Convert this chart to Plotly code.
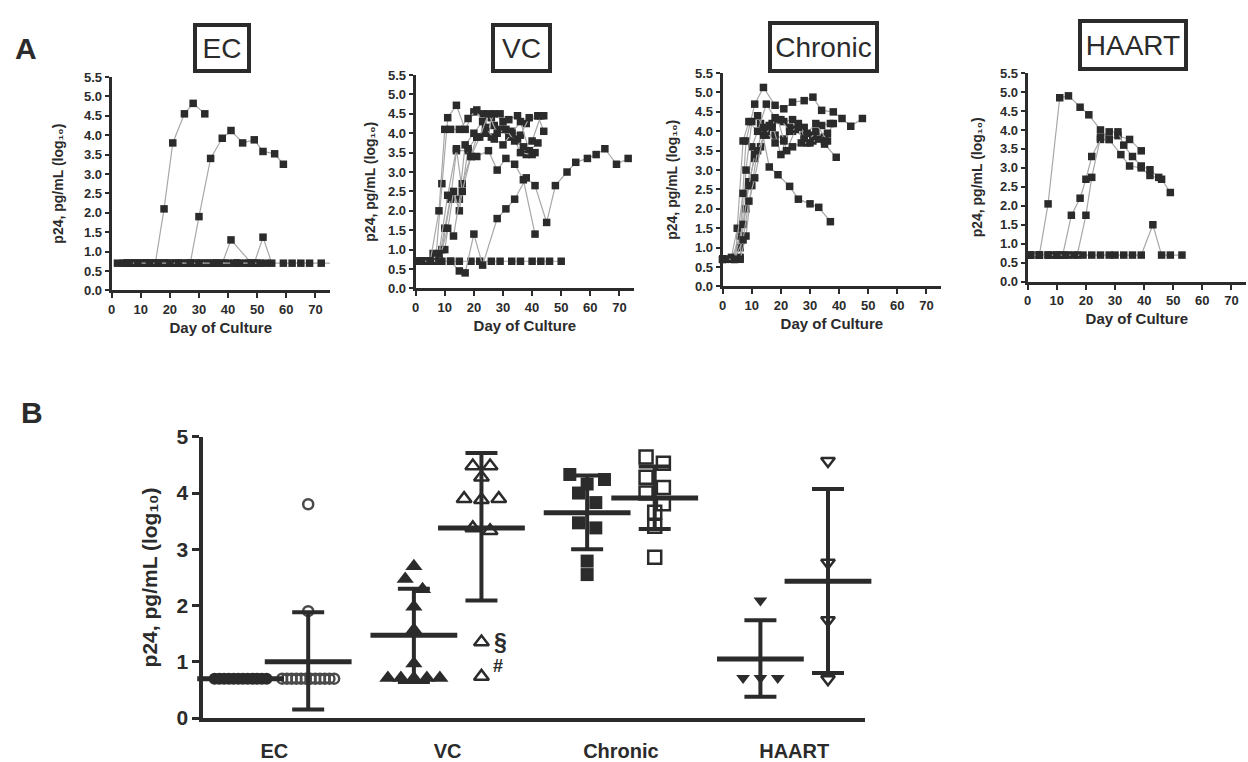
import plotly.graph_objects as go

W, H = 1248, 762
DARK = "#2b2b2b"
LINE = "#a8a8a8"
FONT = "Liberation Sans, Arial, DejaVu Sans, sans-serif"
YTITLE = "p24, pg/mL (log₁₀)"

# ---------------- Panel A data (day of culture, p24 log10) ----------------
PANELS = ["EC", "VC", "Chronic", "HAART"]

EC_days = [
    [2, 5, 8, 12, 15, 18, 21, 25, 28, 32],
    [5, 9, 12, 16, 19, 23, 27, 30, 34, 38, 41, 45, 49, 52, 56, 59],
    [6, 10, 13, 17, 20, 24, 27, 31, 34, 38, 41, 48],
    [7, 11, 14, 18, 22, 25, 29, 32, 36, 39, 43, 46, 49, 52, 55, 59, 62, 65, 68, 72, 76],
    [4, 8, 11, 15, 18, 22, 26, 29, 33, 36, 40, 43, 47, 50, 53],
    [6, 9, 13, 16, 20, 23, 27, 30, 35, 37, 42, 44, 48, 51],
]
EC_vals = [
    [0.7, 0.7, 0.7, 0.7, 0.7, 2.1, 3.8, 4.55, 4.82, 4.55],
    [0.7, 0.7, 0.7, 0.7, 0.7, 0.7, 0.7, 1.9, 3.4, 3.92, 4.12, 3.8, 3.88, 3.58, 3.52, 3.25],
    [0.7, 0.7, 0.7, 0.7, 0.7, 0.7, 0.7, 0.7, 0.7, 0.7, 1.3, 0.7],
    [0.7, 0.7, 0.7, 0.7, 0.7, 0.7, 0.7, 0.7, 0.7, 0.7, 0.7, 0.7, 0.7, 1.37, 0.7, 0.7, 0.7, 0.7, 0.7, 0.7, 0.7],
    [0.7, 0.7, 0.7, 0.7, 0.7, 0.7, 0.7, 0.7, 0.7, 0.7, 0.7, 0.7, 0.7, 0.7, 0.7],
    [0.7, 0.7, 0.7, 0.7, 0.7, 0.7, 0.7, 0.7, 0.7, 0.7, 0.7, 0.7, 0.7, 0.7],
]

VC_days = [
    [1, 5, 8, 12, 15, 19, 22, 26, 29, 33, 36, 40, 43, 46, 50],
    [1, 4, 6, 9, 12, 15, 17, 20, 23, 28, 31, 34, 38, 41, 45, 48, 52, 55, 59, 62, 65, 69, 73],
    [1, 4, 7, 9, 12, 14, 18, 21, 25, 28, 31, 34, 37, 41],
    [2, 5, 7, 9, 11, 14, 17, 20, 23, 26, 29, 32, 35, 38, 42, 44],
    [2, 5, 8, 10, 12, 15, 18, 21, 24, 27, 30, 33, 36, 39, 42, 44],
    [2, 5, 8, 10, 12, 15, 17, 20, 23, 26, 29, 32, 35, 38, 41],
    [2, 5, 8, 10, 13, 15, 18, 21, 24, 27, 30, 33, 36, 39, 42],
    [2, 5, 8, 11, 13, 16, 19, 21, 24, 27, 30, 33, 36, 40],
    [2, 5, 8, 11, 14, 16, 19, 22, 25, 28, 31, 34, 37, 40, 43],
]
VC_vals = [
    [0.7, 0.7, 0.7, 0.7, 0.7, 0.7, 0.7, 0.7, 0.7, 0.7, 0.7, 0.7, 0.7, 0.7, 0.7],
    [0.7, 0.7, 0.9, 0.7, 0.7, 0.45, 0.4, 1.4, 0.6, 1.8, 2.05, 2.3, 2.85, 2.65, 1.7, 2.65, 3.0, 3.25, 3.35, 3.45, 3.6, 3.2, 3.35],
    [0.7, 0.7, 0.7, 1.0, 2.3, 3.55, 3.55, 3.4, 3.55, 3.05, 3.35, 3.2, 2.8, 1.4],
    [0.7, 0.7, 0.85, 2.7, 4.4, 4.72, 4.1, 4.55, 4.5, 4.4, 4.5, 4.35, 4.45, 4.25, 4.45, 4.45],
    [0.7, 0.7, 2.0, 4.1, 4.1, 4.1, 4.38, 4.6, 4.05, 4.2, 4.1, 4.05, 3.95, 4.4, 4.45, 4.05],
    [0.7, 0.7, 0.75, 1.55, 2.35, 2.3, 3.7, 4.0, 4.3, 3.9, 4.1, 3.9, 3.85, 3.45, 3.5],
    [0.7, 0.7, 0.7, 1.0, 2.5, 2.0, 3.6, 3.9, 4.0, 4.5, 4.3, 4.0, 4.3, 3.55, 3.75],
    [0.7, 0.7, 0.7, 1.55, 1.35, 2.7, 3.4, 3.9, 4.15, 3.85, 3.7, 4.0, 3.5, 3.45],
    [0.7, 0.7, 0.9, 2.4, 3.6, 2.5, 3.4, 3.9, 4.5, 4.0, 4.1, 3.8, 3.65, 3.8, 4.45],
]

CH_days = [
    [0, 3, 6, 8, 11, 14, 18, 21, 24, 28, 31, 34, 38, 41, 44, 48],
    [0, 4, 6, 8, 10, 13, 16, 19, 23, 26, 30, 33, 37],
    [0, 4, 6, 8, 10, 12, 15, 18, 21, 24, 28, 31, 35, 39],
    [0, 3, 5, 7, 9, 12, 15, 18, 21, 24, 28, 31, 34, 37],
    [0, 4, 7, 9, 11, 14, 17, 20, 23, 26, 29, 32, 35],
    [0, 4, 7, 9, 11, 13, 16, 19, 22, 25, 28, 31, 35, 38],
    [1, 4, 6, 8, 10, 12, 15, 18, 21, 24, 27, 30, 33, 36],
    [1, 4, 7, 9, 11, 14, 17, 20, 23, 26, 29, 32, 36],
]
CH_vals = [
    [0.7, 0.7, 1.3, 3.75, 4.7, 5.13, 4.67, 4.58, 4.75, 4.79, 4.88, 4.54, 4.5, 4.33, 4.13, 4.33],
    [0.7, 0.7, 1.0, 2.0, 3.6, 4.2, 3.08, 2.88, 2.58, 2.25, 2.13, 2.04, 1.67],
    [0.7, 0.7, 0.75, 3.0, 4.25, 4.4, 3.9, 3.9, 3.8, 4.0, 3.9, 3.8, 3.67, 3.33],
    [0.7, 0.75, 1.5, 3.75, 4.25, 4.0, 4.7, 4.35, 4.25, 4.3, 4.1, 3.9, 4.15, 4.2],
    [0.7, 0.7, 2.4, 2.7, 3.3, 4.1, 4.2, 3.4, 4.1, 4.2, 3.7, 4.0, 3.85],
    [0.7, 0.7, 1.6, 2.6, 3.4, 3.6, 4.15, 4.3, 3.5, 4.05, 3.8, 3.75, 3.75, 4.2],
    [0.7, 0.7, 0.7, 1.3, 2.6, 3.5, 4.0, 3.7, 3.75, 3.6, 3.7, 3.7, 3.8, 3.95],
    [0.7, 0.7, 1.2, 2.2, 2.8, 3.9, 4.1, 4.3, 4.0, 4.1, 3.95, 4.2, 3.75],
]

HA_days = [
    [1, 4, 7, 11, 14, 18, 21, 25, 28, 32, 35, 39, 42, 46, 49],
    [1, 4, 7, 10, 12, 15, 18, 20, 22, 25, 28, 31, 35, 39],
    [4, 8, 11, 14, 17, 20, 22, 25, 28, 31, 33, 36, 39, 42, 45],
    [1, 4, 7, 10, 13, 16, 19, 22, 25, 28, 30, 33, 36, 39, 43, 46, 49, 53],
]
HA_vals = [
    [0.7, 0.7, 2.05, 4.85, 4.9, 4.6, 4.4, 4.0, 3.75, 3.35, 3.05, 3.0, 2.8, 2.7, 2.35],
    [0.7, 0.7, 0.7, 0.7, 0.7, 1.75, 2.2, 2.7, 3.3, 3.75, 3.75, 3.85, 3.75, 3.45],
    [0.7, 0.7, 0.7, 0.7, 0.7, 1.75, 2.75, 3.8, 3.95, 3.95, 3.6, 3.3, 3.05, 2.95, 2.75],
    [0.7, 0.7, 0.7, 0.7, 0.7, 0.7, 0.7, 0.7, 0.7, 0.7, 0.7, 0.7, 0.7, 0.7, 1.5, 0.7, 0.7, 0.7],
]

A_DAYS = [EC_days, VC_days, CH_days, HA_days]
A_VALS = [EC_vals, VC_vals, CH_vals, HA_vals]
A_XTICKS = [0, 10, 20, 30, 40, 50, 60, 70]
A_YTICKS = [0.0, 0.5, 1.0, 1.5, 2.0, 2.5, 3.0, 3.5, 4.0, 4.5, 5.0, 5.5]

# ---------------- Panel B data ----------------
B_GROUPS = ["EC", "VC", "Chronic", "HAART"]
EC_filled = [0.7, 0.7, 0.7, 0.7, 0.7, 0.7, 0.7, 0.7, 0.7, 0.7, 0.7, 0.7]
EC_open = [0.7, 0.7, 0.7, 0.7, 0.7, 0.7, 0.7, 0.7, 0.7, 0.7, 0.7, 0.7, 1.9, 3.8]
VC_filled = [2.7, 2.47, 2.29, 1.98, 1.57, 0.97, 0.71, 0.71, 0.71, 0.71, 0.71]
VC_open = [4.48, 4.48, 4.28, 3.9, 3.9, 3.88, 3.38, 3.33, 1.35, 0.74]
CH_filled = [4.33, 4.24, 4.16, 4.0, 3.83, 3.47, 3.38, 2.79, 2.55]
CH_open = [4.64, 4.53, 4.28, 4.1, 4.0, 3.81, 3.66, 3.41, 2.86]
HA_filled = [2.09, 0.71, 0.71, 0.71]
HA_open = [4.57, 2.76, 1.74, 0.69]

# mean, lower SD, upper SD
B_MEAN = [0.7, 1.0, 1.47, 3.38, 3.65, 3.91, 1.05, 2.43]
B_LO = [0.7, 0.15, 0.64, 2.09, 3.0, 3.36, 0.38, 0.8]
B_HI = [0.7, 1.88, 2.3, 4.71, 4.31, 4.47, 1.74, 4.07]
B_COLS = [EC_filled, EC_open, VC_filled, VC_open, CH_filled, CH_open, HA_filled, HA_open]
B_SYMBOL = ["circle", "circle-open", "triangle-up", "triangle-up-open",
            "square", "square-open", "triangle-down", "triangle-down-open"]
B_SIZE = [12, 10, 15, 13, 13, 13, 12, 12]


def PX(x):
    return x / W


def PY(y):
    return 1 - y / H


def swarm(vals, center, thr=0.2, d=0.1, maxspan=0.3):
    order = sorted(range(len(vals)), key=lambda i: -vals[i])
    xs = [center] * len(vals)
    rows = []
    for i in order:
        if rows and vals[rows[-1][0]] - vals[i] < thr:
            rows[-1].append(i)
        else:
            rows.append([i])
    for row in rows:
        k = len(row)
        s = d if k == 1 else min(d, maxspan / (k - 1))
        slots = [(j - (k - 1) / 2) * s for j in range(k)]
        slot_order = []
        lo, hi = 0, k - 1
        while lo <= hi:
            slot_order.append(lo)
            if hi != lo:
                slot_order.append(hi)
            lo += 1
            hi -= 1
        for idx, si in zip(row, slot_order):
            xs[idx] = center + slots[si]
    return xs


fig = go.Figure()

# Panel A geometry (pixels)
A_XDOM = [(108, 327), (413, 632), (721, 940), (1027, 1246)]
A_YDOM = [(67, 287), (65, 285), (63, 283), (63, 278)]
A_BOX = [(219, 37, 58, 50), (519, 37, 61, 50), (822, 36, 111, 52), (1133, 34, 110, 52)]
A_YSTAND = [18, 10, 15, 15]

layout = dict(
    width=W, height=H, margin=dict(l=0, r=0, t=0, b=0),
    paper_bgcolor="white", plot_bgcolor="white", showlegend=False,
    font=dict(family=FONT, color=DARK),
)
annotations = []

for p in range(4):
    xa = "x" if p == 0 else f"x{p + 1}"
    ya = "y" if p == 0 else f"y{p + 1}"
    for dd, vv in zip(A_DAYS[p], A_VALS[p]):
        fig.add_trace(go.Scatter(
            x=dd, y=vv, xaxis=xa, yaxis=ya, mode="lines+markers",
            line=dict(color=LINE, width=1.2),
            marker=dict(symbol="square", size=7.5, color=DARK),
            cliponaxis=False, hoverinfo="skip"))
    key = "" if p == 0 else str(p + 1)
    layout["xaxis" + key] = dict(
        domain=[PX(A_XDOM[p][0]), PX(A_XDOM[p][1])], anchor=ya, range=[0, 75],
        tickvals=A_XTICKS, showline=True, linecolor=DARK, linewidth=3,
        ticks="outside", ticklen=5, tickwidth=2, tickcolor=DARK,
        tickfont=dict(family=FONT, size=13, color=DARK, weight="bold"),
        title=dict(text="Day of Culture", standoff=7,
                   font=dict(family=FONT, size=15, color=DARK, weight="bold")),
        showgrid=False, zeroline=False, fixedrange=True)
    layout["yaxis" + key] = dict(
        domain=[PY(A_YDOM[p][1]), PY(A_YDOM[p][0])], anchor=xa, range=[0, 5.5],
        tickvals=A_YTICKS, ticktext=[f"{t:.1f}" for t in A_YTICKS],
        showline=True, linecolor=DARK, linewidth=3,
        ticks="outside", ticklen=4, tickwidth=2, tickcolor=DARK,
        tickfont=dict(family=FONT, size=13, color=DARK, weight="bold"),
        title=dict(text=YTITLE, standoff=A_YSTAND[p],
                   font=dict(family=FONT, size=14, color=DARK, weight="bold")),
        showgrid=False, zeroline=False, fixedrange=True)
    cx, cy, bw, bh = A_BOX[p]
    annotations.append(dict(
        text=PANELS[p], x=PX(cx), y=PY(cy), xref="paper", yref="paper",
        showarrow=False, font=dict(family=FONT, size=28, color=DARK),
        bordercolor=DARK, borderwidth=4, borderpad=0,
        width=bw - 8, height=bh - 8, bgcolor="white",
        xanchor="center", yanchor="middle"))

# Panel B
OFF = 0.195
for c, vals in enumerate(B_COLS):
    g = c // 2
    center = g + (-OFF if c % 2 == 0 else OFF)
    xs = swarm(vals, center)
    is_open = B_SYMBOL[c].endswith("open")
    col = "#4a4a4a" if c == 1 else DARK
    fig.add_trace(go.Scatter(
        x=xs, y=vals, xaxis="x5", yaxis="y5", mode="markers",
        marker=dict(symbol=B_SYMBOL[c], size=B_SIZE[c], color=col,
                    line=dict(width=2.5 if is_open else 0, color=col)),
        cliponaxis=False, hoverinfo="skip"))

for c in range(len(B_COLS)):
    g = c // 2
    center = g + (-OFF if c % 2 == 0 else OFF)
    fig.add_trace(go.Scatter(
        x=[center], y=[B_MEAN[c]], xaxis="x5", yaxis="y5", mode="markers",
        marker=dict(symbol="line-ew", size=62, color=DARK, line=dict(width=5, color=DARK)),
        error_y=dict(type="data", symmetric=False,
                     array=[B_HI[c] - B_MEAN[c]], arrayminus=[B_MEAN[c] - B_LO[c]],
                     color=DARK, thickness=4, width=16),
        cliponaxis=False, hoverinfo="skip"))

layout["xaxis5"] = dict(
    domain=[PX(200), PX(864)], anchor="y5", range=[-0.41, 3.41],
    tickvals=[0, 1, 2, 3], ticktext=B_GROUPS, showline=True, linecolor=DARK, linewidth=4,
    ticks="", ticklabelstandoff=12,
    tickfont=dict(family=FONT, size=20, color=DARK, weight="bold"),
    showgrid=False, zeroline=False, fixedrange=True)
layout["yaxis5"] = dict(
    domain=[PY(728), PY(438)], anchor="x5", range=[0, 5],
    tickvals=[0, 1, 2, 3, 4, 5], showline=True, linecolor=DARK, linewidth=4,
    ticks="outside", ticklen=7, tickwidth=3, tickcolor=DARK,
    tickfont=dict(family=FONT, size=21, color=DARK, weight="bold"),
    title=dict(text=YTITLE, standoff=14,
               font=dict(family=FONT, size=21, color=DARK, weight="bold")),
    showgrid=False, zeroline=False, fixedrange=True)

# markers next to the two lowest VC open values
vc_open_x = 1 + OFF
annotations.append(dict(text="§", x=vc_open_x, y=VC_open[-2], xref="x5", yref="y5",
                        showarrow=False, xshift=19, yshift=0,
                        font=dict(family=FONT, size=23, color=DARK, weight="bold")))
annotations.append(dict(text="#", x=vc_open_x, y=VC_open[-1], xref="x5", yref="y5",
                        showarrow=False, xshift=17, yshift=10,
                        font=dict(family=FONT, size=18, color=DARK, weight="bold")))

annotations.append(dict(text="A", x=PX(22), y=PY(38), xref="paper", yref="paper",
                        showarrow=False, font=dict(family=FONT, size=30, color=DARK, weight="bold"),
                        xanchor="center", yanchor="middle"))
annotations.append(dict(text="B", x=PX(28), y=PY(413), xref="paper", yref="paper",
                        showarrow=False, font=dict(family=FONT, size=30, color=DARK, weight="bold"),
                        xanchor="center", yanchor="middle"))

layout["annotations"] = annotations
fig.update_layout(**layout)

fig.write_html("out.html", config={"displayModeBar": False, "responsive": False},
               post_script="document.body.style.margin='0';document.body.style.overflow='hidden';")
